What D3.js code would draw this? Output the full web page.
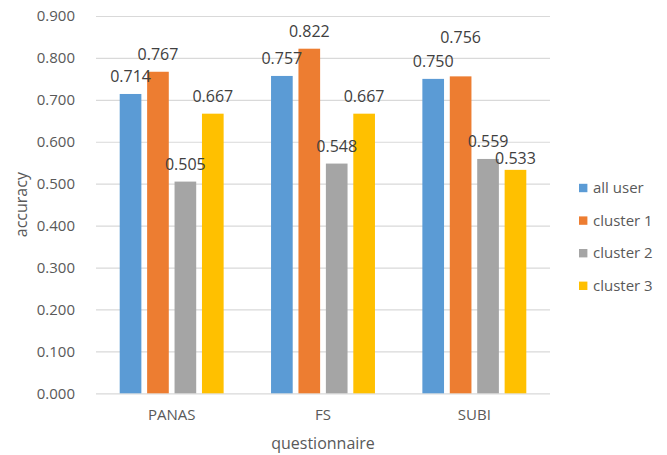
<!DOCTYPE html>
<html>
<head>
<meta charset="utf-8">
<script src="https://cdn.jsdelivr.net/npm/d3@7"></script>
<style>
  html, body { margin: 0; padding: 0; background: #fff; }
  svg { display: block; font-family: "Open Sans", sans-serif; }
</style>
</head>
<body>
<svg id="chart" width="667" height="455"></svg>
<script>
// Accuracy per questionnaire, for all users and each user cluster
const categories = ["PANAS", "FS", "SUBI"];
const seriesNames = ["all user", "cluster 1", "cluster 2", "cluster 3"];
const allUser  = [0.714, 0.757, 0.750];
const cluster1 = [0.767, 0.822, 0.756];
const cluster2 = [0.505, 0.548, 0.559];
const cluster3 = [0.667, 0.667, 0.533];
const yTicks = [0, 0.1, 0.2, 0.3, 0.4, 0.5, 0.6, 0.7, 0.8, 0.9];
const colors = ["#5B9BD5", "#ED7D31", "#A5A5A5", "#FFC000"];

// Vertical nudges (px) for value labels that would otherwise collide
const labelNudge = { "SUBI|cluster 1": -21.5, "SUBI|cluster 3": 6 };

const seriesValues = [allUser, cluster1, cluster2, cluster3];
const rows = categories.map((c, i) => ({
  category: c,
  values: seriesNames.map((s, j) => ({ category: c, series: s, value: seriesValues[j][i], color: colors[j] }))
}));

const svg = d3.select("#chart");
const plot = { left: 96, right: 550, top: 16, bottom: 393.3 };

const x = d3.scaleBand().domain(categories).range([plot.left, plot.right]).paddingInner(0).paddingOuter(0);
const groupPad = 23.7;
const xs = d3.scaleBand().domain(seriesNames)
  .range([groupPad, x.bandwidth() - groupPad]).paddingInner(0.21).paddingOuter(0);
const y = d3.scaleLinear().domain([0, 0.9]).range([plot.bottom, plot.top]);

// Gridlines and tick labels
const yAxis = d3.axisLeft(y).tickValues(yTicks).tickFormat(d3.format(".3f"))
  .tickSize(-(plot.right - plot.left)).tickPadding(21);
const gy = svg.append("g").attr("transform", `translate(${plot.left},0)`).call(yAxis);
gy.select(".domain").remove();
gy.selectAll(".tick line").attr("stroke", "#D9D9D9").attr("stroke-width", 1.2);
gy.selectAll(".tick text").attr("fill", "#595959").attr("font-size", 15)
  .attr("font-family", "Open Sans, sans-serif");

// Category labels
const xAxis = d3.axisBottom(x).tickSize(0).tickPadding(16);
const gx = svg.append("g").attr("transform", `translate(0,${plot.bottom})`).call(xAxis);
gx.select(".domain").remove();
gx.selectAll(".tick text").attr("fill", "#595959").attr("font-size", 15)
  .attr("font-family", "Open Sans, sans-serif");

// Bars
const groups = svg.append("g").selectAll("g").data(rows).join("g")
  .attr("transform", d => `translate(${x(d.category)},0)`);
groups.selectAll("rect").data(d => d.values).join("rect")
  .attr("x", d => xs(d.series))
  .attr("width", xs.bandwidth())
  .attr("y", d => y(d.value))
  .attr("height", d => y(0) - y(d.value))
  .attr("fill", d => d.color);

// Value labels
groups.selectAll("text").data(d => d.values).join("text")
  .attr("x", d => xs(d.series) + xs.bandwidth() / 2)
  .attr("y", d => y(d.value) - 12 + (labelNudge[d.category + "|" + d.series] || 0))
  .attr("text-anchor", "middle")
  .attr("fill", "#404040")
  .attr("font-size", 16)
  .text(d => d3.format(".3f")(d.value));

// Axis titles
svg.append("text")
  .attr("transform", `translate(27,${(plot.top + plot.bottom) / 2}) rotate(-90)`)
  .attr("text-anchor", "middle").attr("fill", "#595959").attr("font-size", 16)
  .text("accuracy");
svg.append("text")
  .attr("x", (plot.left + plot.right) / 2).attr("y", 449)
  .attr("text-anchor", "middle").attr("fill", "#595959").attr("font-size", 16)
  .text("questionnaire");

// Legend
const legend = svg.append("g").attr("transform", "translate(579,188)");
const items = legend.selectAll("g").data(seriesNames).join("g")
  .attr("transform", (d, i) => `translate(0,${i * 32.6})`);
items.append("rect").attr("x", 0).attr("y", -4.2).attr("width", 8.4).attr("height", 8.4)
  .attr("fill", (d, i) => colors[i]);
items.append("text").attr("x", 14).attr("y", 0).attr("dy", "0.35em")
  .attr("fill", "#595959").attr("font-size", 15).text(d => d);
</script>
</body>
</html>
